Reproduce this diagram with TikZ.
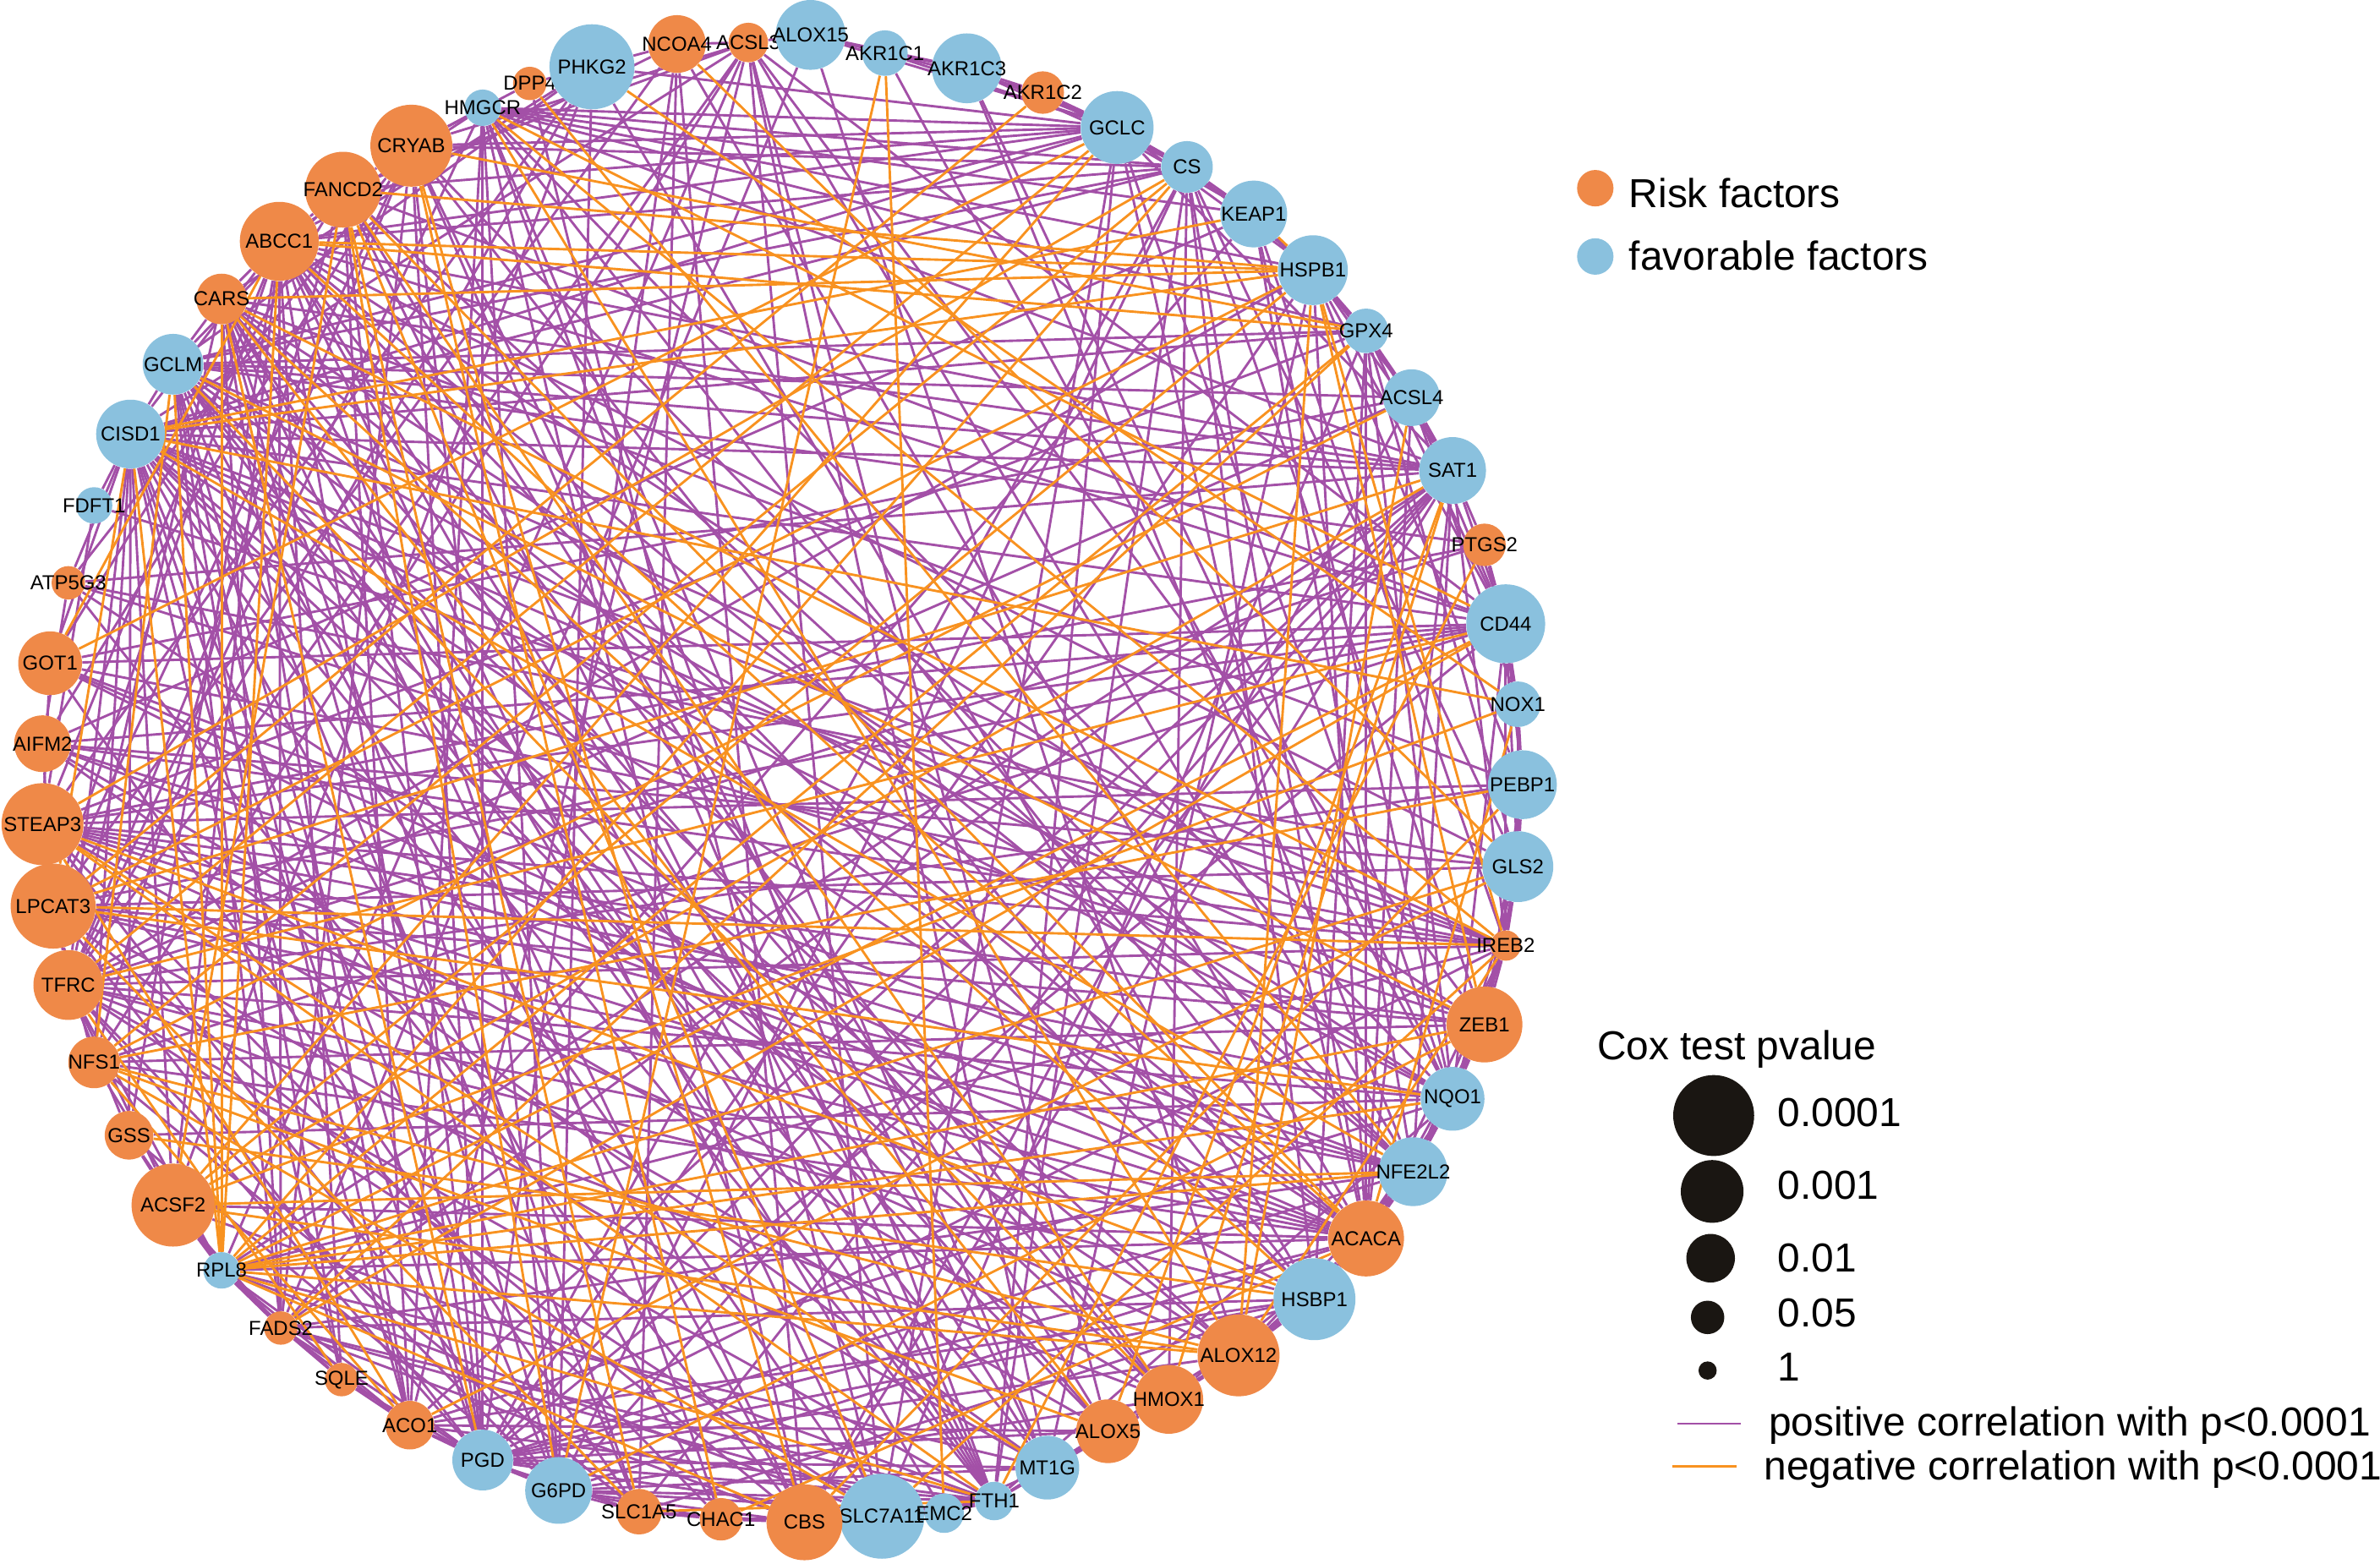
\documentclass[tikz,border=0pt]{standalone}
\usepackage{fontspec}
\setmainfont{Liberation Sans}
\usepackage{tikz}
\usepackage{color}

\definecolor{riskc}{RGB}{239,137,72}
\definecolor{favc}{RGB}{138,193,222}
\definecolor{posc}{RGB}{163,80,167}
\definecolor{negc}{RGB}{248,146,32}
\definecolor{legc}{RGB}{26,22,18}

\pgfdeclarelayer{bg}
\pgfsetlayers{bg,main}

\tikzset{
  gene/.style={circle, inner sep=0pt, draw=none},
  risk/.style={gene, fill=riskc},
  fav/.style={gene, fill=favc},
  dotkey/.style={gene, fill=legc},
  poscor/.style={draw=posc, line width=1.2pt},
  negcor/.style={draw=negc, line width=1.2pt},
  every label/.style={font=\fontsize{10}{12}\selectfont, inner sep=0pt, text=black},
  keytext/.style={anchor=base west, inner sep=0pt, font=\fontsize{20}{24}\selectfont}
}

\begin{document}
\begin{tikzpicture}[x=0.75pt,y=0.75pt,yscale=-1,xscale=1]
\useasboundingbox (0,0) rectangle (1568,1030);

% Gene nodes
\node[fav,  minimum size=18pt,   label=center:HMGCR]   (HMGCR)   at (318,71) {};
\node[risk, minimum size=16.5pt, label=center:DPP4]    (DPP4)    at (349,55) {};
\node[fav,  minimum size=42pt,   label=center:PHKG2]   (PHKG2)   at (390,44) {};
\node[risk, minimum size=28.5pt, label=center:NCOA4]   (NCOA4)   at (446,29) {};
\node[risk, minimum size=19.5pt, label=center:ACSL3]   (ACSL3)   at (493,28) {};
\node[fav,  minimum size=34.5pt, label=center:ALOX15]  (ALOX15)  at (534,23) {};
\node[fav,  minimum size=22.5pt, label=center:AKR1C1]  (AKR1C1)  at (583,35) {};
\node[fav,  minimum size=34.5pt, label=center:AKR1C3]  (AKR1C3)  at (637,45) {};
\node[risk, minimum size=21pt,   label=center:AKR1C2]  (AKR1C2)  at (687,61) {};
\node[fav,  minimum size=36pt,   label=center:GCLC]    (GCLC)    at (736,84) {};
\node[fav,  minimum size=25.5pt, label=center:CS]      (CS)      at (782,110) {};
\node[fav,  minimum size=33pt,   label=center:KEAP1]   (KEAP1)   at (826,141) {};
\node[fav,  minimum size=34.5pt, label=center:HSPB1]   (HSPB1)   at (865,178) {};
\node[fav,  minimum size=22pt,   label=center:GPX4]    (GPX4)    at (900,218) {};
\node[fav,  minimum size=28pt,   label=center:ACSL4]   (ACSL4)   at (930,262) {};
\node[fav,  minimum size=33pt,   label=center:SAT1]    (SAT1)    at (957,310) {};
\node[risk, minimum size=21pt,   label=center:PTGS2]   (PTGS2)   at (978,359) {};
\node[fav,  minimum size=39pt,   label=center:CD44]    (CD44)    at (992,411) {};
\node[fav,  minimum size=22.5pt, label=center:NOX1]    (NOX1)    at (1000,464) {};
\node[fav,  minimum size=34pt,   label=center:PEBP1]   (PEBP1)   at (1003,517) {};
\node[fav,  minimum size=35pt,   label=center:GLS2]    (GLS2)    at (1000,571) {};
\node[risk, minimum size=15pt,   label=center:IREB2]   (IREB2)   at (992,623) {};
\node[risk, minimum size=37.5pt, label=center:ZEB1]    (ZEB1)    at (978,675) {};
\node[fav,  minimum size=31.5pt, label=center:NQO1]    (NQO1)    at (957,724) {};
\node[fav,  minimum size=34pt,   label=center:NFE2L2]  (NFE2L2)  at (931,772) {};
\node[risk, minimum size=37.5pt, label=center:ACACA]   (ACACA)   at (900,816) {};
\node[fav,  minimum size=40.5pt, label=center:HSBP1]   (HSBP1)   at (866,856) {};
\node[risk, minimum size=40.5pt, label=center:ALOX12]  (ALOX12)  at (816,893) {};
\node[risk, minimum size=34pt,   label=center:HMOX1]   (HMOX1)   at (770,922) {};
\node[risk, minimum size=31.5pt, label=center:ALOX5]   (ALOX5)   at (730,943) {};
\node[fav,  minimum size=31.5pt, label=center:MT1G]    (MT1G)    at (690,967) {};
\node[fav,  minimum size=19pt,   label=center:FTH1]    (FTH1)    at (655,989) {};
\node[fav,  minimum size=42pt,   label=center:SLC7A11] (SLC7A11) at (581,999) {};
\node[fav,  minimum size=19.5pt, label=center:EMC2]    (EMC2)    at (622,997) {};
\node[risk, minimum size=37.5pt, label=center:CBS]     (CBS)     at (530,1003) {};
\node[risk, minimum size=21pt,   label=center:CHAC1]   (CHAC1)   at (475,1001) {};
\node[risk, minimum size=22.5pt, label=center:SLC1A5]  (SLC1A5)  at (421,996) {};
\node[fav,  minimum size=33pt,   label=center:G6PD]    (G6PD)    at (368,982) {};
\node[fav,  minimum size=30pt,   label=center:PGD]     (PGD)     at (318,962) {};
\node[risk, minimum size=24pt,   label=center:ACO1]    (ACO1)    at (270,939) {};
\node[risk, minimum size=16.5pt, label=center:SQLE]    (SQLE)    at (225,909) {};
\node[risk, minimum size=16.5pt, label=center:FADS2]   (FADS2)   at (185,875) {};
\node[fav,  minimum size=18pt,   label=center:RPL8]    (RPL8)    at (146,837) {};
\node[risk, minimum size=41pt,   label=center:ACSF2]   (ACSF2)   at (114,794) {};
\node[risk, minimum size=24pt,   label=center:GSS]     (GSS)     at (85,748) {};
\node[risk, minimum size=25.5pt, label=center:NFS1]    (NFS1)    at (62,700) {};
\node[risk, minimum size=34.5pt, label=center:TFRC]    (TFRC)    at (45,649) {};
\node[risk, minimum size=42pt,   label=center:LPCAT3]  (LPCAT3)  at (35,597) {};
\node[risk, minimum size=40.5pt, label=center:STEAP3]  (STEAP3)  at (28,543) {};
\node[risk, minimum size=28pt,   label=center:AIFM2]   (AIFM2)   at (28,490) {};
\node[risk, minimum size=31.5pt, label=center:GOT1]    (GOT1)    at (33,437) {};
\node[risk, minimum size=16.5pt, label=center:ATP5G3]  (ATP5G3)  at (45,384) {};
\node[fav,  minimum size=18pt,   label=center:FDFT1]   (FDFT1)   at (62,333) {};
\node[fav,  minimum size=34pt,   label=center:CISD1]   (CISD1)   at (86,286) {};
\node[fav,  minimum size=30pt,   label=center:GCLM]    (GCLM)    at (114,240) {};
\node[risk, minimum size=25pt,   label=center:CARS]    (CARS)    at (146,197) {};
\node[risk, minimum size=39pt,   label=center:ABCC1]   (ABCC1)   at (184,159) {};
\node[risk, minimum size=37.5pt, label=center:FANCD2]  (FANCD2)  at (226,125) {};
\node[risk, minimum size=40.5pt, label=center:CRYAB]   (CRYAB)   at (271,96) {};

% Correlations
\begin{pgfonlayer}{bg}
\draw[poscor] (HMGCR) edge (GCLC) edge (CS) edge (KEAP1) edge (HSPB1) edge (GPX4) edge (SAT1) edge (NQO1) edge (ACACA) edge (FTH1) edge (MT1G) edge (CBS) edge (G6PD) edge (PGD) edge (ACO1) edge (TFRC) edge (CRYAB) edge (ABCC1);
\draw[poscor] (DPP4) edge (SLC7A11) edge (CRYAB) edge (PHKG2);
\draw[poscor] (PHKG2) edge (NCOA4) edge (CARS) edge (GCLM) edge (ACSF2) edge (TFRC) edge (STEAP3) edge (G6PD) edge (HSBP1) edge (GCLC);
\draw[poscor] (NCOA4) edge (ACSL3) edge (ABCC1) edge (LPCAT3) edge (SLC1A5) edge (CBS) edge (ACACA) edge (PGD);
\draw[poscor] (ACSL3) edge (ALOX15) edge (CRYAB) edge (FANCD2) edge (CISD1) edge (TFRC) edge (NFS1) edge (RPL8) edge (ACO1) edge (SLC7A11) edge (MT1G) edge (ALOX5) edge (NFE2L2) edge (ZEB1) edge (CD44);
\draw[poscor] (ALOX15) edge (AKR1C1) edge (AKR1C3) edge (GCLC) edge (ALOX12) edge (FADS2);
\draw[poscor] (AKR1C1) edge (AKR1C3) edge (AKR1C2) edge (GCLC) edge (NQO1);
\draw[poscor] (AKR1C3) edge (AKR1C2) edge (GCLC) edge (CS) edge (NQO1) edge (NFE2L2);
\draw[poscor] (AKR1C2) edge (GCLC) edge (CS) edge (KEAP1);
\draw[poscor] (GCLC) edge (CS) edge (KEAP1) edge (HSPB1) edge (CRYAB) edge (FANCD2) edge (ABCC1) edge (GCLM) edge (CISD1) edge (SAT1) edge (NQO1) edge (ACACA) edge (FTH1) edge (SLC7A11);
\draw[poscor] (CS) edge (KEAP1) edge (HSPB1) edge (ABCC1) edge (CRYAB) edge (GCLM) edge (PGD) edge (G6PD) edge (FTH1) edge (HMOX1) edge (ACACA) edge (HSBP1) edge (GLS2) edge (ZEB1) edge (CISD1);
\draw[poscor] (KEAP1) edge (GPX4) edge (NFE2L2) edge (AIFM2) edge (FADS2) edge (IREB2) edge (NQO1);
\draw[poscor] (HSPB1) edge (GPX4) edge (ACSL4) edge (SAT1) edge (CD44) edge (PEBP1) edge (MT1G) edge (PGD) edge (TFRC) edge (ACACA);
\draw[poscor] (GPX4) edge (ACSL4) edge (SAT1) edge (CD44) edge (GLS2) edge (NQO1) edge (ACACA) edge (HSBP1) edge (CISD1) edge (GCLM) edge (STEAP3) edge (SLC7A11);
\draw[poscor] (ACSL4) edge (SAT1) edge (CD44) edge (NOX1) edge (ACACA) edge (GCLM) edge (GOT1) edge (TFRC) edge (CBS);
\draw[poscor] (SAT1) edge (PTGS2) edge (CD44) edge (CISD1) edge (ATP5G3) edge (CARS) edge (GCLM) edge (ABCC1) edge (RPL8) edge (FADS2) edge (ACO1) edge (PGD) edge (G6PD) edge (SLC1A5) edge (CBS) edge (IREB2) edge (NFE2L2) edge (ACACA);
\draw[poscor] (PTGS2) edge (CD44) edge (NOX1) edge (STEAP3) edge (TFRC) edge (GCLM);
\draw[poscor] (CD44) edge (NOX1) edge (PEBP1) edge (GLS2) edge (IREB2) edge (NQO1) edge (CISD1) edge (GOT1) edge (AIFM2) edge (STEAP3) edge (LPCAT3) edge (NFS1) edge (FANCD2) edge (ABCC1) edge (PGD);
\draw[poscor] (NOX1) edge (PEBP1) edge (GLS2);
\draw[poscor] (PEBP1) edge (GLS2) edge (IREB2) edge (ZEB1) edge (STEAP3) edge (TFRC) edge (CARS);
\draw[poscor] (GLS2) edge (IREB2) edge (ZEB1) edge (NQO1) edge (AIFM2) edge (LPCAT3) edge (ATP5G3) edge (ABCC1);
\draw[poscor] (IREB2) edge (ZEB1) edge (NQO1) edge (NFE2L2) edge (ACACA) edge (CISD1) edge (GCLM) edge (FDFT1) edge (GOT1) edge (AIFM2) edge (STEAP3) edge (TFRC) edge (RPL8) edge (PGD);
\draw[poscor] (ZEB1) edge (NQO1) edge (NFE2L2) edge (ACACA) edge (CISD1) edge (ATP5G3) edge (STEAP3) edge (LPCAT3) edge (NFS1) edge (ABCC1);
\draw[poscor] (NQO1) edge (NFE2L2) edge (ACACA) edge (HSBP1) edge (CISD1) edge (GCLM) edge (CARS) edge (STEAP3) edge (TFRC) edge (GSS) edge (ACO1) edge (FTH1);
\draw[poscor] (NFE2L2) edge (ACACA) edge (HSBP1) edge (ALOX12) edge (ABCC1) edge (FANCD2) edge (CRYAB) edge (GOT1) edge (AIFM2) edge (STEAP3) edge (LPCAT3) edge (FADS2) edge (PGD);
\draw[poscor] (ACACA) edge (HSBP1) edge (ALOX12) edge (HMOX1) edge (CARS) edge (GCLM) edge (CISD1) edge (GOT1) edge (AIFM2) edge (STEAP3) edge (LPCAT3) edge (TFRC) edge (NFS1) edge (ACSF2) edge (RPL8) edge (PGD) edge (G6PD);
\draw[poscor] (HSBP1) edge (ALOX12) edge (HMOX1) edge (ABCC1) edge (CRYAB) edge (GOT1) edge (TFRC) edge (FADS2) edge (ACO1) edge (PGD) edge (SLC1A5) edge (FTH1);
\draw[poscor] (ALOX12) edge (HMOX1) edge (ALOX5) edge (CISD1) edge (GCLM) edge (ATP5G3) edge (STEAP3) edge (PGD);
\draw[poscor] (HMOX1) edge (ALOX5) edge (MT1G) edge (FTH1) edge (CARS) edge (ABCC1) edge (CISD1) edge (AIFM2) edge (TFRC) edge (G6PD);
\draw[poscor] (ALOX5) edge (MT1G) edge (FTH1) edge (FANCD2) edge (GCLM) edge (CISD1) edge (STEAP3) edge (ACO1) edge (PGD);
\draw[poscor] (MT1G) edge (FTH1) edge (EMC2) edge (CRYAB) edge (ABCC1) edge (GCLM) edge (AIFM2) edge (LPCAT3) edge (RPL8) edge (G6PD) edge (PGD);
\draw[poscor] (FTH1) edge (EMC2) edge (SLC7A11) edge (CBS) edge (CRYAB) edge (FANCD2) edge (ABCC1) edge (CARS) edge (GCLM) edge (CISD1) edge (TFRC) edge (ACSF2) edge (FADS2) edge (ACO1) edge (PGD) edge (G6PD);
\draw[poscor] (EMC2) edge (SLC7A11) edge (CBS) edge (CARS) edge (FADS2) edge (G6PD);
\draw[poscor] (SLC7A11) edge (CBS) edge (CHAC1) edge (ABCC1) edge (CISD1) edge (TFRC) edge (RPL8) edge (PGD);
\draw[poscor] (CBS) edge (CHAC1) edge (SLC1A5) edge (CARS) edge (GCLM) edge (ATP5G3) edge (LPCAT3) edge (FADS2) edge (G6PD);
\draw[poscor] (CHAC1) edge (SLC1A5) edge (G6PD) edge (CISD1) edge (STEAP3) edge (ABCC1);
\draw[poscor] (SLC1A5) edge (G6PD) edge (PGD) edge (CARS) edge (GOT1) edge (NFS1) edge (GCLM);
\draw[poscor] (G6PD) edge (PGD) edge (ACO1) edge (CRYAB) edge (CARS) edge (CISD1) edge (STEAP3) edge (TFRC) edge (GSS);
\draw[poscor] (PGD) edge (ACO1) edge (SQLE) edge (FADS2) edge (CRYAB) edge (FANCD2) edge (ABCC1) edge (GCLM) edge (CISD1) edge (LPCAT3) edge (TFRC) edge (RPL8);
\draw[poscor] (ACO1) edge (SQLE) edge (FADS2) edge (RPL8) edge (FANCD2) edge (CARS) edge (GCLM) edge (CISD1);
\draw[poscor] (SQLE) edge (FADS2) edge (RPL8) edge (ABCC1) edge (GCLM) edge (CISD1);
\draw[poscor] (FADS2) edge (RPL8) edge (ACSF2) edge (ABCC1) edge (CRYAB) edge (GCLM) edge (CARS);
\draw[poscor] (RPL8) edge (ACSF2) edge (GSS) edge (NFS1) edge (TFRC);
\draw[poscor] (ACSF2) edge (GSS) edge (TFRC) edge (CISD1) edge (ABCC1);
\draw[poscor] (GSS) edge (TFRC) edge (ABCC1) edge (CISD1);
\draw[poscor] (NFS1) edge (LPCAT3) edge (CISD1) edge (FANCD2);
\draw[poscor] (TFRC) edge (STEAP3) edge (CISD1) edge (CARS) edge (CRYAB);
\draw[poscor] (LPCAT3) edge (AIFM2) edge (ABCC1) edge (CRYAB);
\draw[poscor] (STEAP3) edge (GOT1) edge (FDFT1) edge (ABCC1);
\draw[poscor] (AIFM2) edge (ATP5G3) edge (CRYAB);
\draw[poscor] (GOT1) edge (CISD1) edge (FANCD2);
\draw[poscor] (ATP5G3) edge (CISD1) edge (CRYAB);
\draw[poscor] (FDFT1) edge (CISD1);
\draw[poscor] (CISD1) edge (GCLM) edge (ABCC1);
\draw[poscor] (GCLM) edge (CARS) edge (FANCD2);
\draw[poscor] (CARS) edge (ABCC1);
\draw[poscor] (ABCC1) edge (FANCD2);
\draw[poscor] (FANCD2) edge (CRYAB);

\draw[negcor] (HMGCR) edge (CD44) edge (IREB2) edge (ALOX12);
\draw[negcor] (DPP4) edge (NFE2L2);
\draw[negcor] (PHKG2) edge (NOX1);
\draw[negcor] (NCOA4) edge (GLS2);
\draw[negcor] (AKR1C1) edge (G6PD) edge (EMC2);
\draw[negcor] (AKR1C2) edge (LPCAT3);
\draw[negcor] (GCLC) edge (ACSF2) edge (TFRC) edge (GOT1);
\draw[negcor] (CS) edge (STEAP3) edge (NFS1) edge (RPL8);
\draw[negcor] (KEAP1) edge (HSPB1) edge (CISD1);
\draw[negcor] (HSPB1) edge (ABCC1) edge (CARS) edge (CISD1) edge (FANCD2) edge (LPCAT3) edge (ACSF2) edge (ALOX12) edge (ZEB1) edge (IREB2);
\draw[negcor] (GPX4) edge (CRYAB) edge (ABCC1) edge (RPL8) edge (FADS2);
\draw[negcor] (ACSL4) edge (ALOX12) edge (NFS1);
\draw[negcor] (SAT1) edge (ACSF2) edge (LPCAT3) edge (HMOX1) edge (ALOX5);
\draw[negcor] (PTGS2) edge (FTH1);
\draw[negcor] (CD44) edge (TFRC) edge (RPL8) edge (FADS2);
\draw[negcor] (NOX1) edge (CISD1) edge (ACSF2) edge (ACACA);
\draw[negcor] (PEBP1) edge (NFS1) edge (CBS);
\draw[negcor] (GLS2) edge (RPL8) edge (ACO1);
\draw[negcor] (IREB2) edge (CARS) edge (LPCAT3) edge (ALOX12) edge (SLC7A11);
\draw[negcor] (ZEB1) edge (GCLM) edge (RPL8) edge (G6PD);
\draw[negcor] (NQO1) edge (LPCAT3) edge (RPL8);
\draw[negcor] (NFE2L2) edge (CISD1) edge (RPL8) edge (ACSF2);
\draw[negcor] (ACACA) edge (FANCD2) edge (ABCC1) edge (CHAC1);
\draw[negcor] (HSBP1) edge (CARS) edge (GSS) edge (STEAP3);
\draw[negcor] (ALOX12) edge (ACSF2) edge (NFS1) edge (RPL8);
\draw[negcor] (HMOX1) edge (GCLM) edge (FANCD2);
\draw[negcor] (ALOX5) edge (CARS) edge (NFS1);
\draw[negcor] (MT1G) edge (STEAP3);
\draw[negcor] (FTH1) edge (STEAP3) edge (RPL8) edge (SLC1A5);
\draw[negcor] (SLC7A11) edge (FANCD2) edge (NFS1);
\draw[negcor] (CBS) edge (CRYAB) edge (RPL8);
\draw[negcor] (CHAC1) edge (CRYAB);
\draw[negcor] (SLC1A5) edge (FANCD2) edge (LPCAT3);
\draw[negcor] (G6PD) edge (FANCD2);
\draw[negcor] (PGD) edge (CARS);
\draw[negcor] (ACO1) edge (STEAP3) edge (NFS1);
\draw[negcor] (SQLE) edge (TFRC);
\draw[negcor] (RPL8) edge (CARS) edge (CISD1) edge (GCLM) edge (ABCC1);
\draw[negcor] (NFS1) edge (GCLM);
\draw[negcor] (LPCAT3) edge (CISD1);
\draw[negcor] (GOT1) edge (ABCC1);
\draw[negcor] (ACSF2) edge (FANCD2);
\end{pgfonlayer}

% Legend: colour
\node[risk, minimum size=18pt] (keyrisk) at (1051,124) {};
\node[keytext] (keyrisktext) at (1073,137) {Risk factors};
\node[fav, minimum size=18pt] (keyfav) at (1051,169) {};
\node[keytext] (keyfavtext) at (1073,178) {favorable factors};

% Legend: size
\node[keytext] (keycox) at (1052,698) {Cox test pvalue};
\node[dotkey, minimum size=40pt]   (keyA) at (1129,735) {};
\node[dotkey, minimum size=31pt]   (keyB) at (1128,785) {};
\node[dotkey, minimum size=24pt]   (keyC) at (1127,829) {};
\node[dotkey, minimum size=16.5pt] (keyD) at (1125,868) {};
\node[dotkey, minimum size=9pt]    (keyE) at (1125,903) {};
\node[keytext] (keyAtext) at (1171,742) {0.0001};
\node[keytext] (keyBtext) at (1171,790) {0.001};
\node[keytext] (keyCtext) at (1171,838) {0.01};
\node[keytext] (keyDtext) at (1171,874) {0.05};
\node[keytext] (keyEtext) at (1171,910) {1};

% Legend: edges
\coordinate (keyposL) at (1105,938);
\coordinate (keyposR) at (1147,938);
\coordinate (keynegL) at (1102,966);
\coordinate (keynegR) at (1144,966);
\draw[poscor] (keyposL) -- (keyposR);
\draw[negcor] (keynegL) -- (keynegR);
\node[keytext] (keypostext) at (1165,946) {positive correlation with p<0.0001};
\node[keytext] (keynegtext) at (1162,975) {negative correlation with p<0.0001};

\end{tikzpicture}
\end{document}
